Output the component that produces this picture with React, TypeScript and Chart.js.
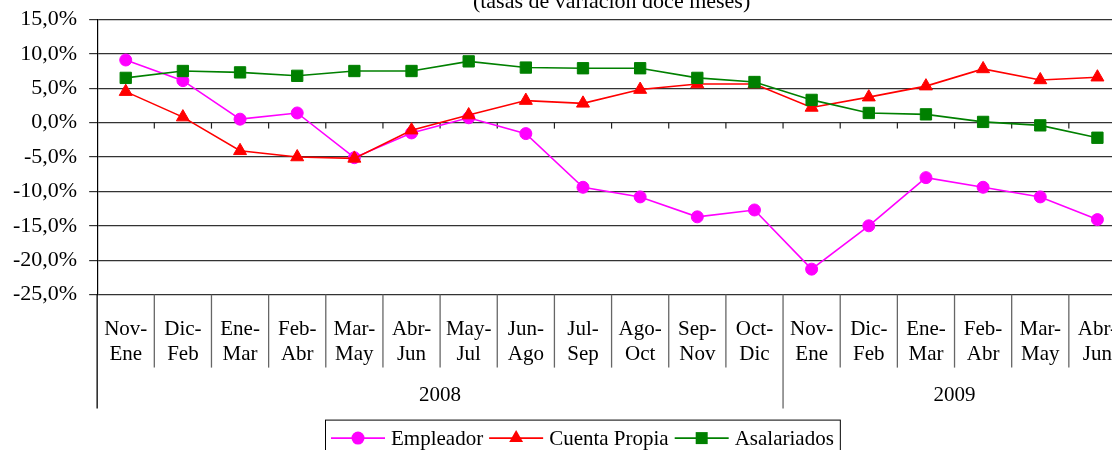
import React, { useEffect, useRef } from 'react';
import { Chart, registerables } from 'chart.js';

Chart.register(...registerables);

const categories: string[][] = [
  ['Nov-', 'Ene'], ['Dic-', 'Feb'], ['Ene-', 'Mar'], ['Feb-', 'Abr'], ['Mar-', 'May'], ['Abr-', 'Jun'],
  ['May-', 'Jul'], ['Jun-', 'Ago'], ['Jul-', 'Sep'], ['Ago-', 'Oct'], ['Sep-', 'Nov'], ['Oct-', 'Dic'],
  ['Nov-', 'Ene'], ['Dic-', 'Feb'], ['Ene-', 'Mar'], ['Feb-', 'Abr'], ['Mar-', 'May'], ['Abr-', 'Jun'],
];
const years = ['2008', '2009'];
const yearSpans = [12, 6];

const empleador = [9.1, 6.1, 0.5, 1.4, -5.1, -1.5, 0.7, -1.6, -9.4, -10.8, -13.7, -12.7, -21.3, -15.0, -8.0, -9.4, -10.8, -14.1];
const cuentaPropia = [4.5, 0.8, -4.1, -5.0, -5.2, -1.1, 1.1, 3.2, 2.8, 4.8, 5.6, 5.6, 2.2, 3.7, 5.3, 7.8, 6.2, 6.6];
const asalariados = [6.5, 7.5, 7.3, 6.8, 7.5, 7.5, 8.9, 8.0, 7.9, 7.9, 6.5, 5.9, 3.3, 1.4, 1.2, 0.1, -0.4, -2.2];

const yMin = -25;
const yMax = 15;
const yStep = 5;
const titleText = '(tasas de variación doce meses)';

const FONT = "'Liberation Serif', 'Times New Roman', serif";

const decoPlugin = {
  id: 'deco',
  beforeDatasetsDraw(chart: any) {
    const { ctx, scales } = chart;
    const x = scales.x;
    const y = scales.y;
    const n = categories.length;
    const y0 = y.getPixelForValue(0);
    ctx.save();
    ctx.strokeStyle = '#222';
    ctx.lineWidth = 1.2;
    for (let i = 1; i <= n; i++) {
      const px = x.getPixelForValue(i - 0.5);
      ctx.beginPath();
      ctx.moveTo(px, y0);
      ctx.lineTo(px, y0 + 6);
      ctx.stroke();
    }
    ctx.restore();
  },
  afterDraw(chart: any) {
    const { ctx, chartArea, scales } = chart;
    const x = scales.x;
    const n = categories.length;
    const base = chartArea.bottom;
    const bound = (i: number) => x.getPixelForValue(i - 0.5);
    ctx.save();
    ctx.lineWidth = 1.3;
    const yearBreaks = new Set<number>([0]);
    let acc = 0;
    yearSpans.forEach((s) => { acc += s; yearBreaks.add(acc); });
    for (let i = 0; i <= n; i++) {
      const px = bound(i);
      const isYear = yearBreaks.has(i);
      ctx.strokeStyle = i === 0 ? '#000' : '#666';
      ctx.beginPath();
      ctx.moveTo(px, base);
      ctx.lineTo(px, base + (isYear ? 114 : 73));
      ctx.stroke();
    }
    ctx.fillStyle = '#000';
    ctx.font = `21px ${FONT}`;
    ctx.textAlign = 'center';
    ctx.textBaseline = 'middle';
    let start = 0;
    years.forEach((yr, k) => {
      const a = bound(start);
      const b = bound(start + yearSpans[k]);
      ctx.fillText(yr, (a + b) / 2, base + 101);
      start += yearSpans[k];
    });
    const left = 325;
    const top = base + 125;
    const h = 37;
    const cy = top + h / 2;
    ctx.font = `21px ${FONT}`;
    ctx.textAlign = 'left';
    let cx = left + 6;
    const items = chart.data.datasets.map((ds: any) => ({
      label: ds.label, color: ds.borderColor, style: ds.pointStyle,
    }));
    items.forEach((it: any) => {
      ctx.strokeStyle = it.color;
      ctx.fillStyle = it.color;
      ctx.lineWidth = 1.8;
      ctx.beginPath();
      ctx.moveTo(cx, cy);
      ctx.lineTo(cx + 54, cy);
      ctx.stroke();
      const mx = cx + 27;
      ctx.beginPath();
      if (it.style === 'circle') {
        ctx.arc(mx, cy, 6.5, 0, Math.PI * 2);
      } else if (it.style === 'triangle') {
        const r = 8;
        ctx.moveTo(mx, cy - r);
        ctx.lineTo(mx + r * 0.866, cy + r * 0.5);
        ctx.lineTo(mx - r * 0.866, cy + r * 0.5);
        ctx.closePath();
      } else {
        ctx.rect(mx - 6, cy - 6, 12, 12);
      }
      ctx.fill();
      ctx.fillStyle = '#000';
      ctx.fillText(it.label, cx + 60, cy + 1);
      cx += 60 + ctx.measureText(it.label).width + 6;
    });
    ctx.strokeStyle = '#000';
    ctx.lineWidth = 1;
    ctx.strokeRect(left + 0.5, top + 0.5, cx - left, h);
    ctx.restore();
  },
};

export default function App() {
  const ref = useRef<HTMLCanvasElement>(null);
  useEffect(() => {
    const canvas = ref.current!;
    const chart = new Chart(canvas, {
      type: 'line',
      data: {
        labels: categories,
        datasets: [
          {
            label: 'Empleador', data: empleador, borderColor: '#FF00FF', backgroundColor: '#FF00FF',
            pointStyle: 'circle', pointRadius: 6, pointBorderWidth: 1, borderWidth: 1.6, tension: 0, order: 3,
          },
          {
            label: 'Cuenta Propia', data: cuentaPropia, borderColor: '#FF0000', backgroundColor: '#FF0000',
            pointStyle: 'triangle', pointRadius: 7.5, pointBorderWidth: 1, borderWidth: 1.6, tension: 0, order: 2,
          },
          {
            label: 'Asalariados', data: asalariados, borderColor: '#008000', backgroundColor: '#008000',
            pointStyle: 'rect', pointRadius: 8, pointBorderWidth: 1, borderWidth: 1.6, tension: 0, order: 1,
          },
        ],
      },
      options: {
        responsive: false,
        devicePixelRatio: 1,
        animation: false,
        events: [],
        layout: { padding: { left: 1, right: 9, top: 0, bottom: 89 } },
        plugins: {
          legend: { display: false },
          tooltip: { enabled: false },
          title: {
            display: true,
            text: titleText,
            fullSize: false,
            color: '#000',
            font: { family: FONT, size: 22, weight: 'normal' },
            padding: { top: 0, bottom: 4 },
          },
        },
        scales: {
          x: {
            type: 'category',
            offset: true,
            grid: { display: false },
            border: { display: false },
            ticks: {
              color: '#000',
              font: { family: FONT, size: 21 },
              padding: 14,
              maxRotation: 0,
              autoSkip: false,
            },
          },
          y: {
            min: yMin,
            max: yMax,
            ticks: {
              stepSize: yStep,
              color: '#000',
              font: { family: FONT, size: 22 },
              padding: 12,
              callback: (v: any) => Number(v).toFixed(1).replace('.', ',') + '%',
            },
            grid: { color: '#333', lineWidth: 1.2, tickLength: 8, drawTicks: true },
            border: { display: true, color: '#000', width: 1.2 },
          },
        },
      },
      plugins: [decoPlugin],
    });
    return () => chart.destroy();
  }, []);
  return (
    <div style={{ position: 'fixed', left: 0, top: 0, width: 1112, height: 450, overflow: 'hidden', background: '#fff' }}>
      <canvas
        ref={ref}
        width={1135}
        height={481}
        style={{ position: 'absolute', left: 0, top: -11, width: 1135, height: 481 }}
      />
    </div>
  );
}
